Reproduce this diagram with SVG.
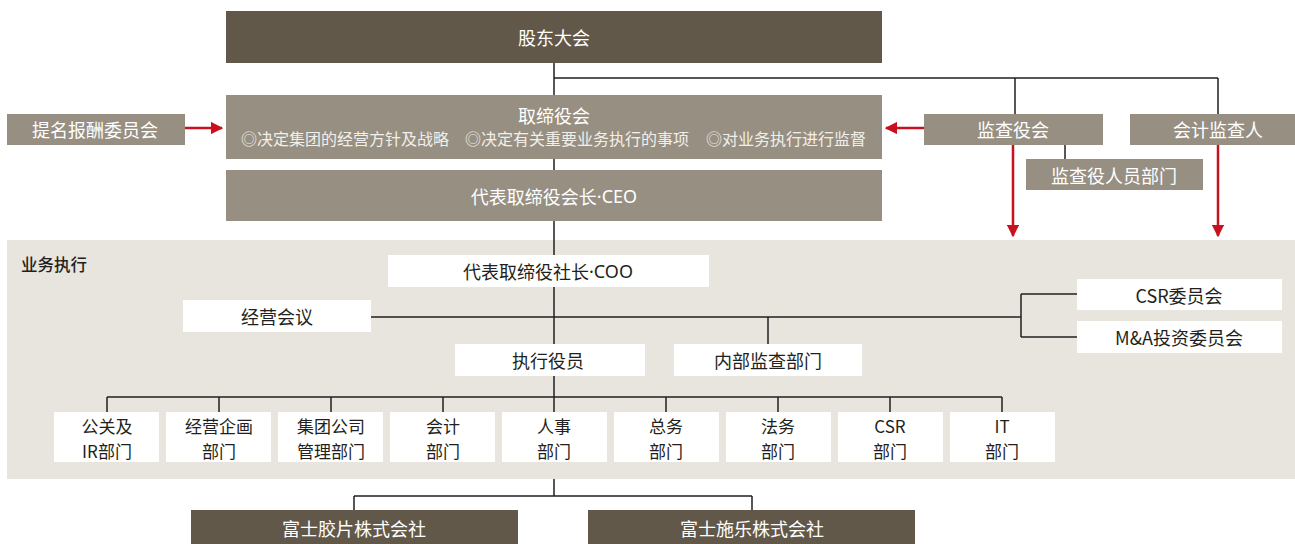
<svg xmlns="http://www.w3.org/2000/svg" width="1295" height="544" viewBox="0 0 1295 544">
<defs>
<style>
text{font-family:"Noto Sans CJK SC","Noto Sans",sans-serif;text-anchor:middle;dominant-baseline:central;font-size:18px}
.dark{fill:#62584a}
.mid{fill:#978f82}
.wb{fill:#ffffff}
.lt{fill:#ffffff}
.dt{fill:#231f20}
.dp{font-size:17px}
.sub{fill:#f2efea;font-size:16px;text-anchor:start}
.lat{font-family:"Noto Sans",sans-serif}
.ln{stroke:#231f20;stroke-width:1.5;fill:none}
.red{stroke:#c8101e;stroke-width:2.5;fill:none}
</style>
<marker id="ah" viewBox="0 0 10 10" refX="9" refY="5" markerWidth="5" markerHeight="5" orient="auto" markerUnits="strokeWidth">
<path d="M0,0 L10,5 L0,10 z" fill="#c8101e"/>
</marker>
</defs>
<rect width="1295" height="544" fill="#ffffff"/>
<g id="area-exec">
<rect x="7" y="240" width="1288" height="239" fill="#e8e5de"/>
<text x="21" y="264" class="dt" style="text-anchor:start;font-size:16.5px;font-weight:500">业务执行</text>
</g>
<g id="connectors">
<path class="ln" d="M554,63 V95 M554,78 H1218 M1015,78 V114 M1218,78 V114"/>
<path class="ln" d="M554,159 V170 M554,221 V255 M554,287 V344 M371,317 H1021 M768,317 V344 M1021,294 V337 M1021,294 H1077 M1021,337 H1077"/>
<path class="ln" d="M1065,145 V159"/>
<path class="ln" d="M554,376 V397 M107,397 H1002 M107,397 V412 M219,397 V412 M331,397 V412 M443,397 V412 M554,397 V412 M666,397 V412 M778,397 V412 M890,397 V412 M1002,397 V412"/>
<path class="ln" d="M554,479 V496 M354,496 H752 M354,496 V510 M752,496 V510"/>
<path class="red" d="M185,128 H222" marker-end="url(#ah)"/>
<path class="red" d="M924,128 H886" marker-end="url(#ah)"/>
<path class="red" d="M1013,145 V236" marker-end="url(#ah)"/>
<path class="red" d="M1218,145 V236" marker-end="url(#ah)"/>
</g>
<g id="n-gm"><rect class="dark" x="226" y="11" width="656" height="52"/><text class="lt" x="554" y="37">股东大会</text></g>
<g id="n-board"><rect class="mid" x="226" y="95" width="656" height="64"/><text class="lt" x="554" y="115">取缔役会</text>
<text class="sub" x="241" y="138">◎决定集团的经营方针及战略</text>
<text class="sub" x="465" y="138">◎决定有关重要业务执行的事项</text>
<text class="sub" x="706" y="138">◎对业务执行进行监督</text></g>
<g id="n-nom"><rect class="mid" x="7" y="114" width="178" height="31"/><text class="lt" x="95" y="129">提名报酬委员会</text></g>
<g id="n-aud"><rect class="mid" x="924" y="114" width="179" height="31"/><text class="lt" x="1013" y="129">监查役会</text></g>
<g id="n-acc"><rect class="mid" x="1130" y="114" width="165" height="31"/><text class="lt" x="1218" y="129">会计监查人</text></g>
<g id="n-audstaff"><rect class="mid" x="1026" y="159" width="177" height="31"/><text class="lt" x="1114" y="175">监查役人员部门</text></g>
<g id="n-ceo"><rect class="mid" x="226" y="170" width="656" height="51"/><text class="lt" x="554" y="196">代表取缔役会长<tspan class="lat">·CEO</tspan></text></g>
<g id="n-coo"><rect class="wb" x="388" y="255" width="321" height="32"/><text class="dt" x="548" y="271">代表取缔役社长<tspan class="lat">·COO</tspan></text></g>
<g id="n-mgmt"><rect class="wb" x="183" y="300" width="188" height="32"/><text class="dt" x="277" y="316">经营会议</text></g>
<g id="n-csr"><rect class="wb" x="1077" y="279" width="205" height="31"/><text class="dt" x="1179" y="295">CSR委员会</text></g>
<g id="n-ma"><rect class="wb" x="1077" y="321" width="205" height="32"/><text class="dt" x="1179" y="337">M&amp;A投资委员会</text></g>
<g id="n-exo"><rect class="wb" x="455" y="344" width="190" height="32"/><text class="dt" x="548" y="360">执行役员</text></g>
<g id="n-ia"><rect class="wb" x="674" y="344" width="188" height="32"/><text class="dt" x="768" y="360">内部监查部门</text></g>
<g id="n-d1"><rect class="wb" x="54" y="412" width="105" height="50"/><text class="dt dp" x="107" y="425">公关及</text><text class="dt dp" x="107" y="450">IR部门</text></g>
<g id="n-d2"><rect class="wb" x="166" y="412" width="105" height="50"/><text class="dt dp" x="219" y="425">经营企画</text><text class="dt dp" x="219" y="450">部门</text></g>
<g id="n-d3"><rect class="wb" x="278" y="412" width="105" height="50"/><text class="dt dp" x="331" y="425">集团公司</text><text class="dt dp" x="331" y="450">管理部门</text></g>
<g id="n-d4"><rect class="wb" x="390" y="412" width="105" height="50"/><text class="dt dp" x="443" y="425">会计</text><text class="dt dp" x="443" y="450">部门</text></g>
<g id="n-d5"><rect class="wb" x="502" y="412" width="105" height="50"/><text class="dt dp" x="554" y="425">人事</text><text class="dt dp" x="554" y="450">部门</text></g>
<g id="n-d6"><rect class="wb" x="614" y="412" width="105" height="50"/><text class="dt dp" x="666" y="425">总务</text><text class="dt dp" x="666" y="450">部门</text></g>
<g id="n-d7"><rect class="wb" x="726" y="412" width="105" height="50"/><text class="dt dp" x="778" y="425">法务</text><text class="dt dp" x="778" y="450">部门</text></g>
<g id="n-d8"><rect class="wb" x="838" y="412" width="105" height="50"/><text class="dt dp" x="890" y="425">CSR</text><text class="dt dp" x="890" y="450">部门</text></g>
<g id="n-d9"><rect class="wb" x="950" y="412" width="105" height="50"/><text class="dt dp" x="1002" y="425">IT</text><text class="dt dp" x="1002" y="450">部门</text></g>
<g id="n-ff"><rect class="dark" x="191" y="510" width="327" height="34"/><text class="lt" x="354" y="528">富士胶片株式会社</text></g>
<g id="n-fx"><rect class="dark" x="588" y="510" width="327" height="34"/><text class="lt" x="752" y="528">富士施乐株式会社</text></g>
</svg>
